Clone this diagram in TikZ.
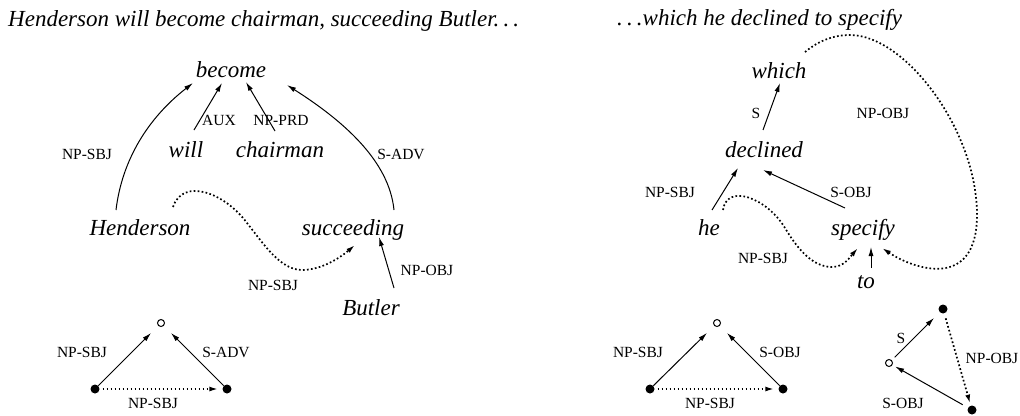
\documentclass[tikz,border=0pt]{standalone}
\usepackage{fontspec}
\setmainfont{Liberation Serif}
\usetikzlibrary{
  arrows.meta,
  positioning
}
\newcommand{\spacedots}{.\kern.18em.\kern.18em.}
\tikzset{
  word/.style={font=\fontsize{23}{27}\selectfont\itshape, inner sep=0pt, anchor=base},
  rel/.style={font=\fontsize{15.5}{18}\selectfont, inner sep=0pt},
  dep/.style={-{Latex[length=9pt,width=5pt]}, line width=1pt},
  trace/.style={dep, line width=1.7pt, dash pattern=on 1.7pt off 2.3pt},
  fulldot/.style={circle, fill=black, inner sep=0pt, minimum size=9pt},
  opendot/.style={circle, draw=black, line width=1pt, inner sep=0pt, minimum size=7pt}
}

\begin{document}
\begin{tikzpicture}[x=1pt, y=-1pt]
  \useasboundingbox (0,0) rectangle (1020,415);

  \node[word, anchor=base west] (titleL) at (8,26)
    {Henderson will become chairman, succeeding Butler\spacedots};
  \node[word, anchor=base west] (titleR) at (617,25)
    {\spacedots which he declined to specify};

  % left tree
  \node[word] (become) at (231,77) {become};
  \node[word] (will) at (186,157) {will};
  \node[word] (chairman) at (280,157) {chairman};
  \node[word] (henderson) at (140,235) {Henderson};
  \node[word] (succeeding) at (353,235) {succeeding};
  \node[word] (butler) at (371,315) {Butler};

  \node[rel] (sbjA) at (87,154) {NP-SBJ};
  \node[rel] (aux) at (219,120) {AUX};
  \node[rel] (prd) at (281,120) {NP-PRD};
  \node[rel] (advA) at (401,154) {S-ADV};
  \node[rel] (sbjB) at (273,285) {NP-SBJ};
  \node[rel] (objA) at (427,270) {NP-OBJ};

  \draw[dep] ([shift={(8,-27)}]will.base) -- ([shift={(-9,6)}]become.base);
  \draw[dep] ([shift={(-5,-26)}]chairman.base) -- ([shift={(15,5)}]become.base);
  \draw[dep] ([shift={(-24,-25)}]henderson.base)
    .. controls +(6,-50) and +(-45,35) .. ([shift={(-38,6)}]become.base);
  \draw[dep] ([shift={(41,-25)}]succeeding.base)
    .. controls +(-5,-50) and +(55,35) .. ([shift={(56,8)}]become.base);
  \draw[dep] ([shift={(23,-27)}]butler.base) -- ([shift={(26,2)}]succeeding.base);
  \draw[trace] ([shift={(33,-28)}]henderson.base)
    .. controls +(10,-30) and +(-22,-30) .. (247,223)
    .. controls +(16,20) and +(-22,0) .. (302,270)
    .. controls +(20,0) and +(-14,12) .. ([shift={(2,10)}]succeeding.base);

  % right tree
  \node[word] (which) at (779,78) {which};
  \node[word] (declined) at (764,157) {declined};
  \node[word] (he) at (709,235) {he};
  \node[word] (specify) at (863,235) {specify};
  \node[word] (infto) at (866,288) {to};

  \node[rel] (s) at (756,113) {S};
  \node[rel] (objB) at (883,113) {NP-OBJ};
  \node[rel] (sbjC) at (670,192) {NP-SBJ};
  \node[rel] (sobjA) at (851,192) {S-OBJ};
  \node[rel] (sbjD) at (763,258) {NP-SBJ};

  \draw[dep] ([shift={(-1,-27)}]declined.base) -- ([shift={(1,5)}]which.base);
  \draw[dep] ([shift={(3,-25)}]he.base) -- ([shift={(-26,11)}]declined.base);
  \draw[dep] ([shift={(-18,-27)}]specify.base) -- ([shift={(-1,13)}]declined.base);
  \draw[dep] ([shift={(5,-20)}]infto.base) -- ([shift={(8,12)}]specify.base);
  \draw[trace] ([shift={(14,-25)}]he.base)
    .. controls +(4,-27) and +(-18,-30) .. (785,228)
    .. controls +(12,20) and +(-20,0) .. (832,267)
    .. controls +(12,0) and +(-8,9) .. ([shift={(-5,13)}]specify.base);
  \draw[trace] ([shift={(26,-26)}]which.base)
    .. controls +(12,-10) and +(-18,0) .. (850,35)
    .. controls +(55,0) and +(0,-85) .. (977,215)
    .. controls +(0,75) and +(33,22) .. ([shift={(19,13)}]specify.base);

  % triangles
  \node[opendot] (topL) at (161,323) {};
  \node[fulldot] (leftL) at (95,389) {};
  \node[fulldot] (rightL) at (227,389) {};
  \node[rel] (tsbjA) at (82,352) {NP-SBJ};
  \node[rel] (tadv) at (226,352) {S-ADV};
  \node[rel] (tsbjB) at (153,403) {NP-SBJ};
  \draw[dep, shorten >=10pt] (leftL) -- (topL);
  \draw[dep, shorten >=10pt] (rightL) -- (topL);
  \draw[trace, shorten <=3pt, shorten >=4pt] (leftL) -- (rightL);

  \node[opendot] (topM) at (717,323) {};
  \node[fulldot] (leftM) at (650,389) {};
  \node[fulldot] (rightM) at (783,389) {};
  \node[rel] (tsbjC) at (638,352) {NP-SBJ};
  \node[rel] (tsobjA) at (780,352) {S-OBJ};
  \node[rel] (tsbjD) at (710,403) {NP-SBJ};
  \draw[dep, shorten >=10pt] (leftM) -- (topM);
  \draw[dep, shorten >=10pt] (rightM) -- (topM);
  \draw[trace, shorten <=3pt, shorten >=4pt] (leftM) -- (rightM);

  \node[fulldot] (topR) at (943,309) {};
  \node[opendot] (leftR) at (889,363) {};
  \node[fulldot] (lowR) at (972,410) {};
  \node[rel] (ts) at (901,338) {S};
  \node[rel] (tobj) at (992,358) {NP-OBJ};
  \node[rel] (tsobjB) at (903,403) {S-OBJ};
  \draw[dep, shorten <=4pt, shorten >=8pt] (leftR) -- (topR);
  \draw[trace, shorten <=5pt, shorten >=2pt] (topR) -- (lowR);
  \draw[dep, shorten <=6pt, shorten >=3pt] (lowR) -- (leftR);
\end{tikzpicture}
\end{document}
